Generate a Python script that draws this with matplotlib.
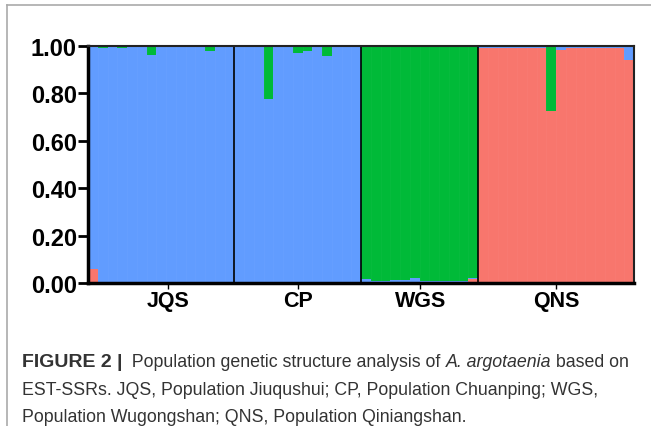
import numpy as np
import matplotlib.pyplot as plt
from matplotlib.lines import Line2D

plt.rcParams['font.family'] = ['Liberation Sans', 'DejaVu Sans']

populations = ["JQS", "CP", "WGS", "QNS"]

# membership coefficients (Q) per individual: red, blue, green
jqs_red = [0.06, 0.003, 0.002, 0.002, 0.005, 0.005, 0.002, 0.002, 0.006, 0.002, 0.002, 0.002, 0.002, 0.003, 0.002]
jqs_blue = [0.935, 0.99, 0.993, 0.988, 0.992, 0.992, 0.958, 0.995, 0.991, 0.995, 0.993, 0.995, 0.978, 0.994, 0.992]
jqs_green = [0.005, 0.007, 0.005, 0.01, 0.003, 0.003, 0.04, 0.003, 0.003, 0.003, 0.005, 0.003, 0.02, 0.003, 0.006]

cp_red = [0.003] * 13
cp_blue = [0.994, 0.995, 0.995, 0.772, 0.994, 0.994, 0.969, 0.977, 0.994, 0.955, 0.994, 0.991, 0.994]
cp_green = [0.003, 0.002, 0.002, 0.225, 0.003, 0.003, 0.028, 0.02, 0.003, 0.042, 0.003, 0.006, 0.003]

wgs_red = [0.003, 0.003, 0.003, 0.003, 0.003, 0.003, 0.003, 0.003, 0.003, 0.003, 0.003, 0.017]
wgs_blue = [0.012, 0.004, 0.004, 0.008, 0.008, 0.02, 0.004, 0.004, 0.004, 0.004, 0.004, 0.003]
wgs_green = [0.985, 0.993, 0.993, 0.989, 0.989, 0.977, 0.993, 0.993, 0.993, 0.993, 0.993, 0.98]

qns_red = [0.991, 0.991, 0.991, 0.991, 0.991, 0.991, 0.991, 0.724, 0.984, 0.991, 0.991, 0.991, 0.991, 0.991, 0.991, 0.942]
qns_blue = [0.003, 0.006, 0.006, 0.006, 0.006, 0.006, 0.006, 0.003, 0.013, 0.006, 0.006, 0.006, 0.006, 0.006, 0.006, 0.055]
qns_green = [0.006, 0.003, 0.003, 0.003, 0.003, 0.003, 0.003, 0.273, 0.003, 0.003, 0.003, 0.003, 0.003, 0.003, 0.003, 0.003]

red = np.array(jqs_red + cp_red + wgs_red + qns_red)
blue = np.array(jqs_blue + cp_blue + wgs_blue + qns_blue)
green = np.array(jqs_green + cp_green + wgs_green + qns_green)
sizes = [len(jqs_red), len(cp_red), len(wgs_red), len(qns_red)]

c_red = "#F8766D"
c_blue = "#619CFF"
c_green = "#00BA38"

fig = plt.figure(figsize=(6.51, 4.27), dpi=100)
ax = fig.add_axes([88 / 651, 1 - 284 / 427, 546 / 651, 237 / 427])

x = np.arange(len(red))
ax.bar(x, red, width=1.0, color=c_red, linewidth=0)
ax.bar(x, blue, width=1.0, bottom=red, color=c_blue, linewidth=0)
ax.bar(x, green, width=1.0, bottom=red + blue, color=c_green, linewidth=0)

# faint individual separators
for xi in x[1:]:
    ax.axvline(xi - 0.5, color="white", lw=0.4, alpha=0.05)

bounds = np.cumsum(sizes)
for b in bounds[:-1]:
    ax.axvline(b - 0.5, color="black", lw=1.2)

ax.set_xlim(-0.5, len(red) - 0.5)
ax.set_ylim(0, 1)

yt = [0, 0.2, 0.4, 0.6, 0.8, 1.0]
ax.set_yticks(yt)
ax.set_yticklabels([f"{v:.2f}" for v in yt], fontsize=17, fontweight="bold")
ax.tick_params(axis="y", length=7, width=2, pad=1)

centers = [7.7, 21, 33.6, 47.5]
ax.set_xticks(centers)
ax.set_xticklabels(populations, fontsize=15.5, fontweight="bold")
ax.tick_params(axis="x", length=4, width=1, pad=1)

for s in ["left", "bottom"]:
    ax.spines[s].set_linewidth(2.5)
    ax.spines[s].set_color("black")
for s in ["top", "right"]:
    ax.spines[s].set_linewidth(1.5)
    ax.spines[s].set_color("#222222")

# outer frame
fig.add_artist(Line2D([7 / 651, 7 / 651], [0, 1 - 6 / 427], color="#aaaaaa", lw=1.2))
fig.add_artist(Line2D([7 / 651, 1], [1 - 6 / 427, 1 - 6 / 427], color="#aaaaaa", lw=1.2))

# caption
cap_col = "#333333"
fs = 12.8
x0 = 22 / 651
y1 = 1 - 363 / 427
t1 = fig.text(x0, y1, "FIGURE 2 |", fontsize=14, fontweight="bold", color=cap_col, va="center")
t2 = fig.text(0, y1, "  Population genetic structure analysis of ", fontsize=fs, color=cap_col, va="center")
t3 = fig.text(0, y1, "A. argotaenia", fontsize=fs, style="italic", color=cap_col, va="center")
t4 = fig.text(0, y1, " based on", fontsize=fs, color=cap_col, va="center")
fig.canvas.draw()
r = fig.canvas.get_renderer()
inv = fig.transFigure.inverted()
prev = t1
for t in [t2, t3, t4]:
    bb = prev.get_window_extent(r)
    t.set_x(inv.transform((bb.x1, 0))[0])
    fig.canvas.draw()
    prev = t
fig.text(x0, 1 - 391 / 427, "EST-SSRs. JQS, Population Jiuqushui; CP, Population Chuanping; WGS,",
         fontsize=fs, color=cap_col, va="center")
fig.text(x0, 1 - 418 / 427, "Population Wugongshan; QNS, Population Qiniangshan.",
         fontsize=fs, color=cap_col, va="center")

fig.savefig("out.png", dpi=100)
